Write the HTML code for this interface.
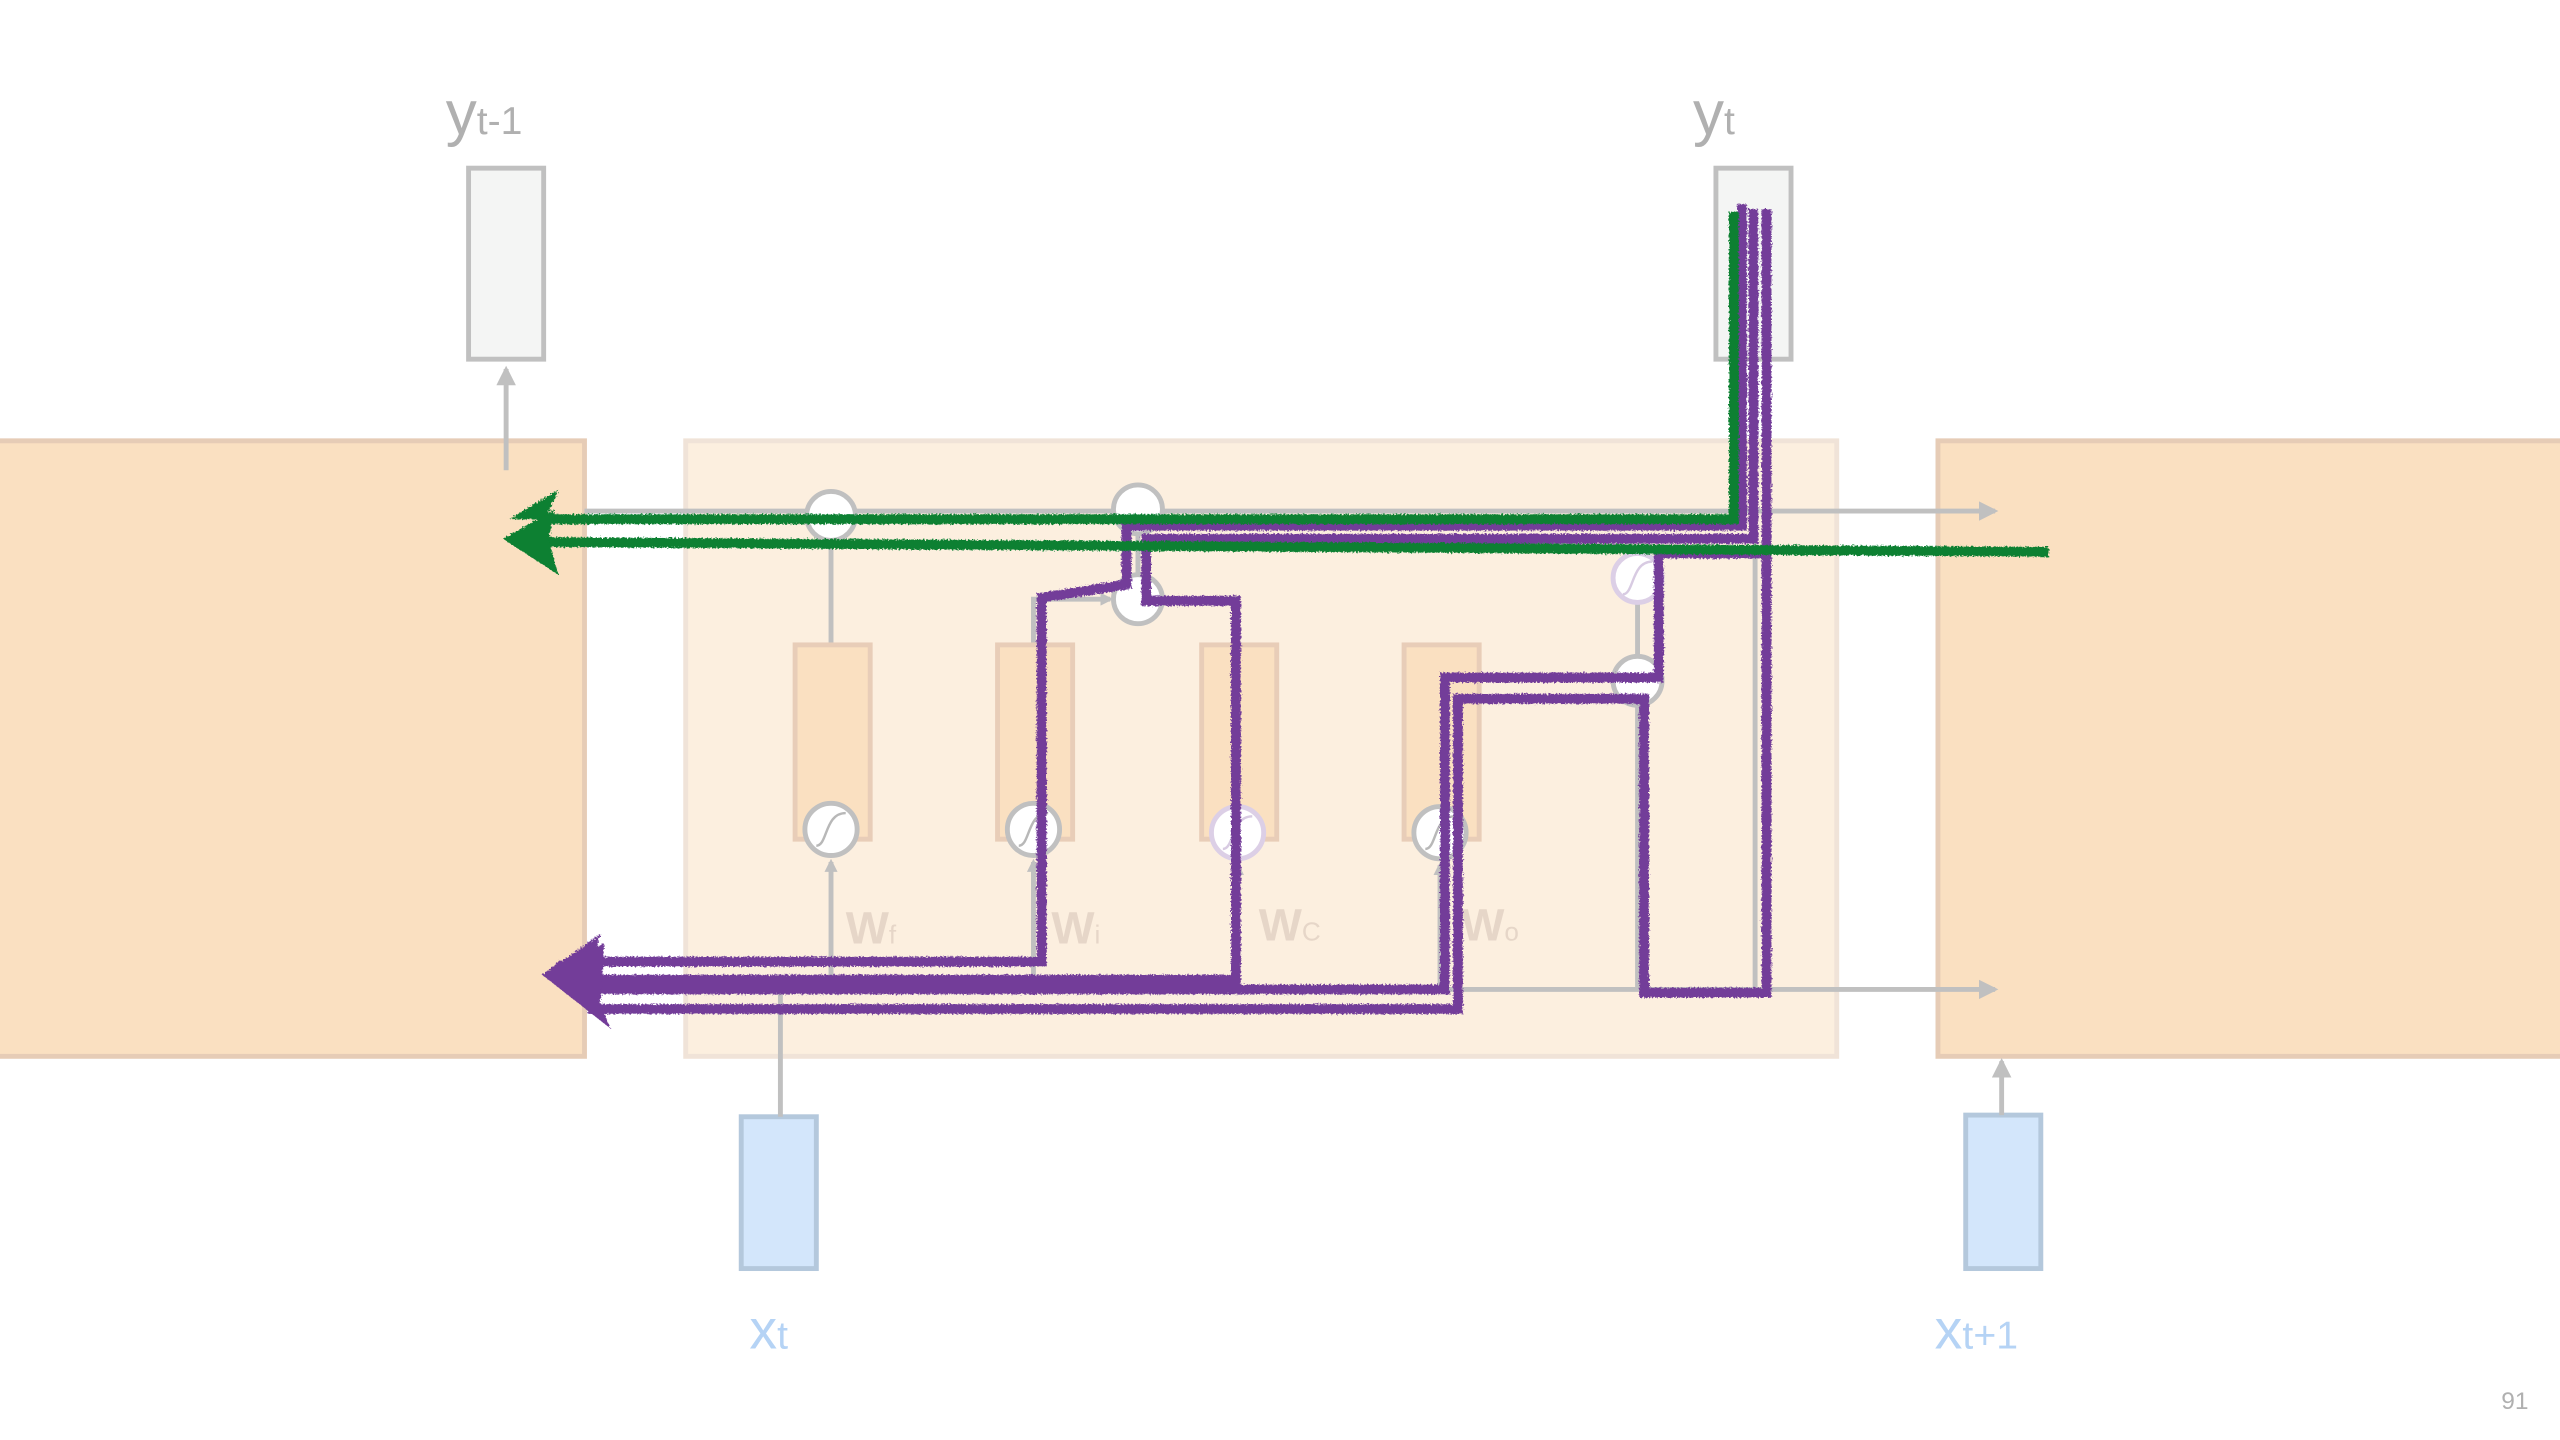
<!DOCTYPE html>
<html><head><meta charset="utf-8"><style>
html,body{margin:0;padding:0;background:#fff;}
svg{display:block;}
text{font-family:"Liberation Sans",sans-serif;}
</style></head><body>
<svg width="2560" height="1440" viewBox="0 0 1568 882" xmlns="http://www.w3.org/2000/svg">
<defs>
<filter id="rough" x="-5%" y="-5%" width="110%" height="110%">
<feTurbulence type="fractalNoise" baseFrequency="0.9" numOctaves="2" result="n"/>
<feDisplacementMap in="SourceGraphic" in2="n" scale="3"/>
</filter>
<marker id="ga" markerWidth="8" markerHeight="8" refX="6" refY="4" orient="auto" markerUnits="userSpaceOnUse">
<path d="M0,0 L8,4 L0,8 z" fill="#c0c0c0"/></marker>
<marker id="ga2" markerWidth="12" markerHeight="12" refX="10" refY="6" orient="auto" markerUnits="userSpaceOnUse">
<path d="M0,0 L12,6 L0,12 z" fill="#c0c0c0"/></marker>
</defs>
<rect width="1568" height="882" fill="#fff"/>
<rect x="-2" y="270" width="360" height="377" fill="#fae0c1" stroke="#e6ccb6" stroke-width="3"/>
<rect x="420" y="270" width="705" height="377" fill="#fcefdf" stroke="#f0e3d8" stroke-width="3"/>
<rect x="1187" y="270" width="385" height="377" fill="#fae0c1" stroke="#e6ccb6" stroke-width="3"/>
<rect x="287" y="103" width="46" height="117" fill="#f4f5f4" stroke="#c0c0c0" stroke-width="3"/>
<rect x="1051" y="103" width="46" height="117" fill="#f4f5f4" stroke="#c0c0c0" stroke-width="3"/>
<text x="273" y="82" font-size="38" fill="#b0b0b0">y<tspan font-size="24">t-1</tspan></text>
<text x="1037" y="82" font-size="38" fill="#b0b0b0">y<tspan font-size="24">t</tspan></text>
<line x1="310" y1="288" x2="310" y2="226" stroke="#c0c0c0" stroke-width="3" marker-end="url(#ga2)"/>
<rect x="454" y="684" width="46" height="93" fill="#d3e6fb" stroke="#b4c8dc" stroke-width="3"/>
<rect x="1204" y="683" width="46" height="94" fill="#d3e6fb" stroke="#b4c8dc" stroke-width="3"/>
<text x="459" y="826" font-size="34" fill="#b5d3f5">x<tspan font-size="24">t</tspan></text>
<text x="1185" y="826" font-size="34" fill="#b5d3f5">x<tspan font-size="24">t+1</tspan></text>
<line x1="478" y1="684" x2="478" y2="606" stroke="#c0c0c0" stroke-width="3"/>
<line x1="1226" y1="683" x2="1226" y2="650" stroke="#c0c0c0" stroke-width="3" marker-end="url(#ga2)"/>
<g stroke="#c0c0c0" stroke-width="3" fill="none">
<line x1="358" y1="313" x2="1222" y2="313" marker-end="url(#ga2)"/>
<line x1="358" y1="606" x2="1222" y2="606" marker-end="url(#ga2)"/>
<line x1="509" y1="395" x2="509" y2="331"/>
<polyline points="633,395 633,367 680,367" marker-end="url(#ga)"/>
<polyline points="758,395 758,367 714,367"/>
<line x1="697" y1="352" x2="697" y2="328"/>
<line x1="1075" y1="313" x2="1075" y2="606"/>
<line x1="1003" y1="370" x2="1003" y2="402"/>
<line x1="1003" y1="432" x2="1003" y2="606"/>
<line x1="509" y1="606" x2="509" y2="528" marker-end="url(#ga)"/>
<line x1="633" y1="606" x2="633" y2="528" marker-end="url(#ga)"/>
<line x1="758" y1="606" x2="758" y2="530" marker-end="url(#ga)"/>
<line x1="882" y1="606" x2="882" y2="530" marker-end="url(#ga)"/>
</g>
<g fill="#fae0c1" stroke="#e8cdb8" stroke-width="3">
<rect x="487" y="395" width="46" height="119"/>
<rect x="611" y="395" width="46" height="119"/>
<rect x="736" y="395" width="46" height="119"/>
<rect x="860" y="395" width="46" height="119"/>
</g>
<g fill="#fff" stroke="#c0c0c0" stroke-width="3">
<circle cx="509" cy="316" r="15"/>
<circle cx="697" cy="312" r="15"/>
<circle cx="697" cy="367" r="15"/>
<circle cx="509" cy="508" r="16"/>
<circle cx="633" cy="508" r="16"/>
<circle cx="882" cy="510" r="16"/>
<circle cx="1003" cy="417" r="15"/>
</g>
<g fill="#fff" stroke="#dccfe6" stroke-width="3">
<circle cx="758" cy="510" r="16"/>
<circle cx="1003" cy="354" r="15"/>
</g>
<g stroke="#b8b8b8" stroke-width="1.5" fill="none">
<path d="M500,518 C507,518 505,498 518,498"/>
<path d="M624,518 C631,518 629,498 642,498"/>
<path d="M873,520 C880,520 878,500 891,500"/>
<path d="M749,520 C756,520 754,500 767,500" stroke="#d8cbe2"/>
<path d="M994,364 C1001,364 999,344 1012,344" stroke="#d8cbe2"/>
</g>
<g fill="#e6d6c8" font-weight="bold">
<text x="518" y="578" font-size="28">W<tspan font-size="16" font-weight="normal">f</tspan></text>
<text x="644" y="578" font-size="28">W<tspan font-size="16" font-weight="normal">i</tspan></text>
<text x="771" y="576" font-size="28">W<tspan font-size="16" font-weight="normal">C</tspan></text>
<text x="895" y="576" font-size="28">W<tspan font-size="16" font-weight="normal">o</tspan></text>
</g>
<g stroke="#733d99" stroke-width="6" fill="none" filter="url(#rough)">
<polyline points="1067,125 1067,322 690,322 690,358 638,366 638,589 360,589"/>
<polyline points="1074,128 1074,330 702,330 702,368 757,368 757,600 360,600"/>
<polyline points="1082,128 1082,608 1007,608 1007,428 893,428 893,618 360,618"/>
<polyline points="1081,339 1016,339 1016,415 885,415 885,606 360,606"/>
</g>
<g fill="#733d99" filter="url(#rough)">
<path d="M332,597 L368,572 L360,597 L374,630 z"/>
<path d="M340,590 L370,578 L368,614 z"/>
</g>
<g stroke="#0a8030" stroke-width="6" fill="none" filter="url(#rough)">
<polyline points="1062,130 1062,318 330,318"/>
<polyline points="1255,338 330,332"/>
</g>
<g fill="#0a8030" filter="url(#rough)">
<path d="M312,318 L342,300 L334,318 z"/>
<path d="M308,330 L340,312 L336,330 L342,352 z"/>
</g>
<text x="1532" y="863" font-size="15" fill="#b0b0b0">91</text>
</svg>
</body></html>
